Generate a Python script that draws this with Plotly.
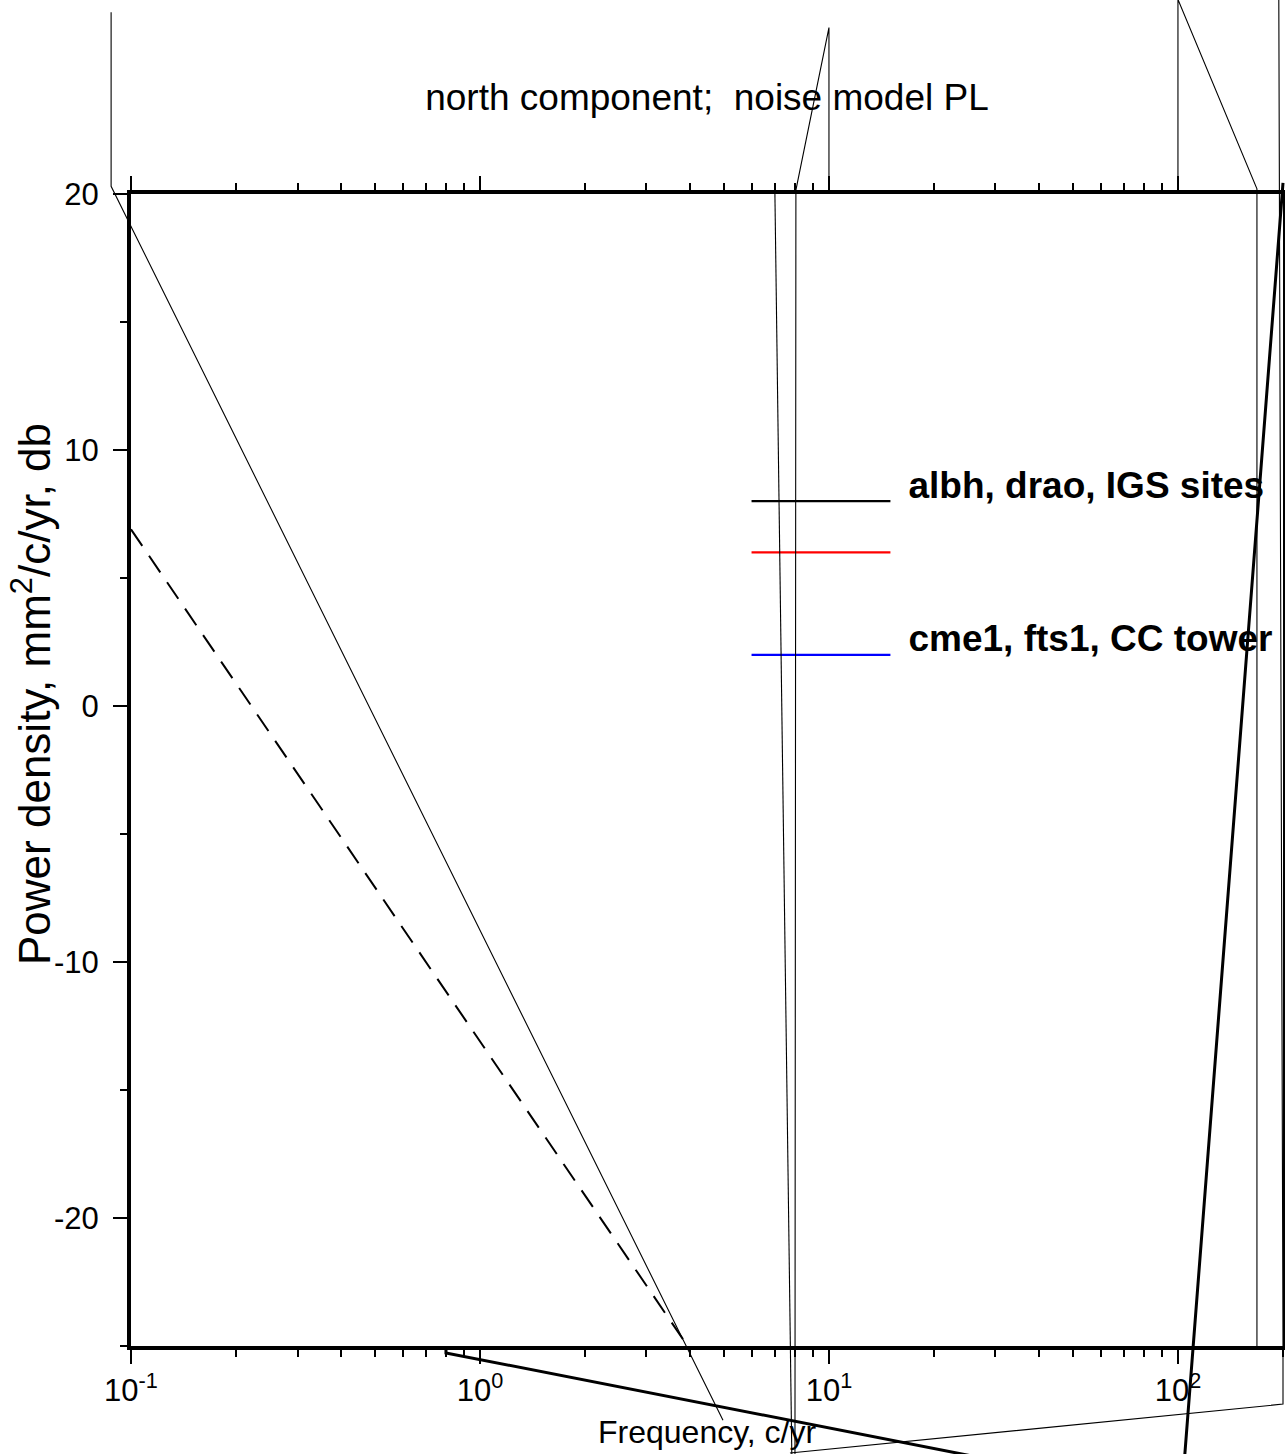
import math
import plotly.graph_objects as go

# ---------------- data ----------------
title_text = "north component;\u00a0 noise model PL"
x_title = "Frequency, c/yr"
y_title = "Power density, mm<sup>2</sup>/c/yr, db"

x_tick_vals = [0.1, 1, 10, 100]
x_tick_text = ["10<sup>-1</sup>", "10<sup>0</sup>", "10<sup>1</sup>", "10<sup>2</sup>"]
y_tick_vals = [-20, -10, 0, 10, 20]
y_tick_text = ["-20", "-10", "0", "10", "20"]
y_minor_vals = [-25, -15, -5, 5, 15]

f_min, f_max = 0.1, 200.0
db_min, db_max = -25.0, 20.0

# power-law noise model (dashed)
model_f = [0.1, 10.0]
model_db = [6.9, -33.1]

# stray thin segments (frequency c/yr, power dB)
seg_a_f = [0.0877, 0.0877, 4.97]
seg_a_db = [27.1, 20.3, -27.9]

seg_b_f = [10.0, 10.0, 8.04, 7.99]
seg_b_db = [20.0, 26.5, 20.15, -30.0]

seg_c_f = [7.0, 7.84]
seg_c_db = [20.0, -30.0]

seg_d_f = [7.73, 200.0, 200.0, 194.5, 194.5]
seg_d_db = [-29.18, -27.27, -25.0, 20.3, 28.0]

seg_e_f = [100.0, 100.0, 168.4, 168.4]
seg_e_db = [20.0, 27.6, 20.2, -25.0]

# stray thick segment
thick_f = [0.799, 0.799, 102.4, 200.0]
thick_db = [-25.0, -25.27, -30.9, 20.43]

# legend
legend_f = [6.0, 15.0]
legend_names = ["albh, drao, IGS sites", "", "cme1, fts1, CC tower"]
legend_db = [8.0, 6.0, 2.0]
legend_colors = ["black", "red", "blue"]
legend_text_f = 16.9
legend_text_db = [8.5, 6.5, 2.5]

# ---------------- layout geometry ----------------
W, H = 1285, 1454
left_px, right_px, top_px, bottom_px = 131, 1283, 194, 1346
FONT = "Liberation Sans, Arial, Helvetica, sans-serif"

dom_x = [left_px / W, right_px / W]
dom_y = [(H - bottom_px) / H, (H - top_px) / H]
lx0, lx1 = math.log10(f_min), math.log10(f_max)
px_per_dec = (right_px - left_px) / (lx1 - lx0)
px_per_db = (bottom_px - top_px) / (db_max - db_min)
x2_range = [lx0 - left_px / px_per_dec, lx1 + (W - right_px) / px_per_dec]
y2_range = [db_min - (H - bottom_px) / px_per_db, db_max + top_px / px_per_db]

minor_x = [m * 10 ** d for d in range(-1, 3) for m in range(2, 10) if m * 10 ** d <= f_max]

fig = go.Figure()

# model line on main axes
fig.add_trace(go.Scatter(x=model_f, y=model_db, mode="lines",
                         line=dict(color="black", width=2, dash="20px,12px"),
                         xaxis="x", yaxis="y", showlegend=False, hoverinfo="skip"))

# legend lines + labels
for name, yv, col, ty in zip(legend_names, legend_db, legend_colors, legend_text_db):
    fig.add_trace(go.Scatter(x=legend_f, y=[yv, yv], mode="lines",
                             line=dict(color=col, width=2.2),
                             xaxis="x", yaxis="y", showlegend=False, hoverinfo="skip"))
    if name:
        fig.add_trace(go.Scatter(x=[legend_text_f], y=[ty], mode="text", text=[name],
                                 textposition="middle right", cliponaxis=False,
                                 textfont=dict(family=FONT, size=37, color="black", weight="bold"),
                                 xaxis="x", yaxis="y", showlegend=False, hoverinfo="skip"))

# stray lines on full-canvas axes
for fx, dy in [(seg_a_f, seg_a_db), (seg_b_f, seg_b_db), (seg_c_f, seg_c_db),
               (seg_d_f, seg_d_db), (seg_e_f, seg_e_db)]:
    fig.add_trace(go.Scatter(x=fx, y=dy, mode="lines", line=dict(color="black", width=1.1),
                             xaxis="x2", yaxis="y2", showlegend=False, hoverinfo="skip"))
fig.add_trace(go.Scatter(x=thick_f, y=thick_db, mode="lines", line=dict(color="black", width=3),
                         xaxis="x2", yaxis="y2", showlegend=False, hoverinfo="skip"))

tickfont = dict(family=FONT, size=31, color="black")
fig.update_layout(
    width=W, height=H, autosize=False,
    margin=dict(l=0, r=0, t=0, b=0, pad=0, autoexpand=False),
    paper_bgcolor="white", plot_bgcolor="rgba(0,0,0,0)",
    showlegend=False,
    title=dict(text=title_text, x=707 / W, xanchor="center", y=1 - 97 / H, yanchor="middle",
               automargin=False,
               font=dict(family=FONT, size=37, color="black")),
    xaxis=dict(type="log", range=[lx0, lx1], domain=dom_x, anchor="y", automargin=False,
               showgrid=False, zeroline=False, showline=True, linecolor="black", linewidth=4,
               mirror="allticks", ticks="outside", ticklen=14, tickwidth=2, tickcolor="black",
               tickmode="array", tickvals=x_tick_vals, ticktext=x_tick_text, tickfont=tickfont,
               minor=dict(ticks="outside", ticklen=7, tickwidth=2, tickcolor="black",
                          tickmode="array", tickvals=minor_x, showgrid=False)),
    yaxis=dict(range=[db_min, db_max], domain=dom_y, anchor="x", automargin=False,
               showgrid=False, zeroline=False, showline=True, linecolor="black", linewidth=4,
               mirror="allticks", ticks="outside", ticklen=14, tickwidth=2, tickcolor="black",
               ticklabelstandoff=8,
               tickmode="array", tickvals=y_tick_vals, ticktext=y_tick_text, tickfont=tickfont,
               minor=dict(ticks="outside", ticklen=7, tickwidth=2, tickcolor="black",
                          tickmode="array", tickvals=y_minor_vals, showgrid=False)),
    xaxis2=dict(type="log", range=x2_range, domain=[0, 1], anchor="y2", visible=False,
                automargin=False, showgrid=False, zeroline=False),
    yaxis2=dict(range=y2_range, domain=[0, 1], anchor="x2", visible=False,
                automargin=False, showgrid=False, zeroline=False),
    annotations=[
        dict(text=x_title, xref="paper", yref="paper", x=707 / W, y=1 - 1432 / H,
             xanchor="center", yanchor="middle", showarrow=False,
             font=dict(family=FONT, size=32, color="black")),
        dict(text=y_title, xref="paper", yref="paper", x=31 / W, y=1 - 694 / H,
             xanchor="center", yanchor="middle", showarrow=False, textangle=-90,
             font=dict(family=FONT, size=44, color="black")),
    ],
)

fig.write_html("out.html")
